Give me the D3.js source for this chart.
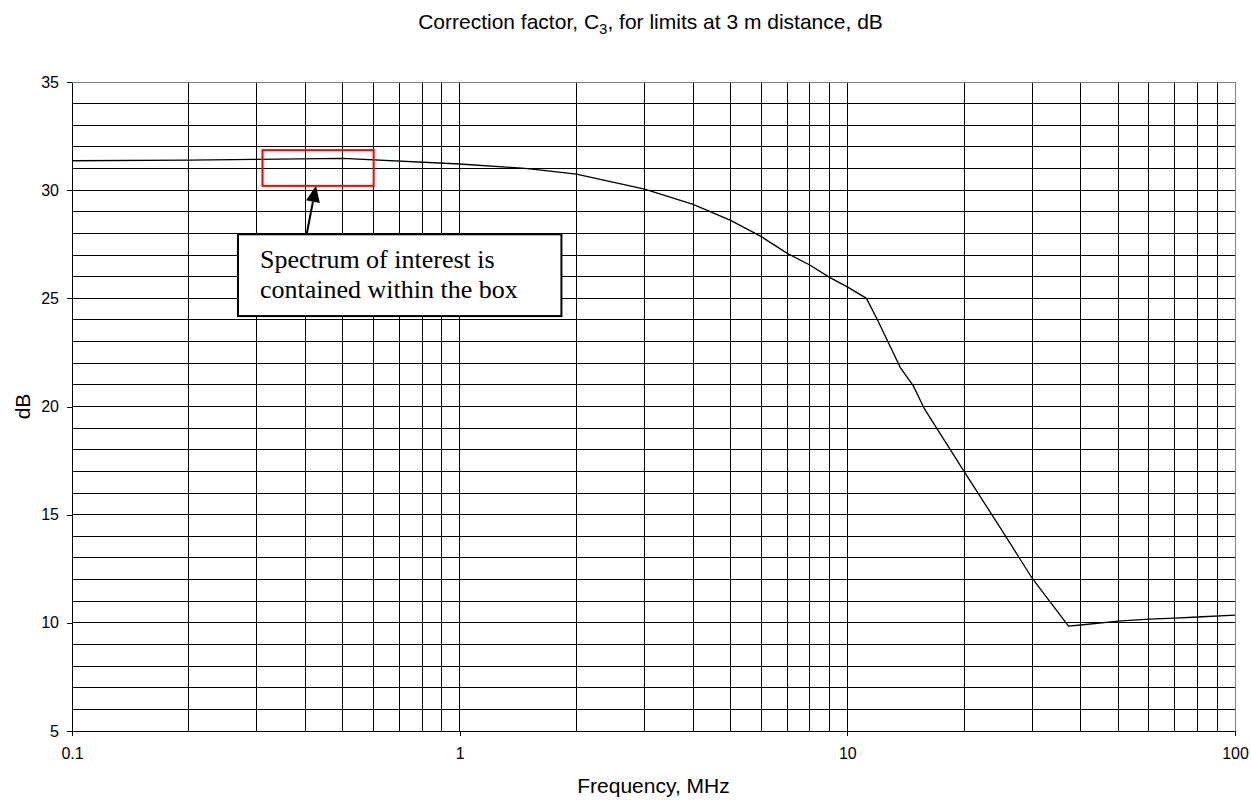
<!DOCTYPE html>
<html>
<head>
<meta charset="utf-8">
<script src="https://cdn.jsdelivr.net/npm/d3@7"></script>
<style>
  body { margin: 0; background: #fff; }
  text { font-family: "Liberation Sans", Arial, sans-serif; fill: #000; }
</style>
</head>
<body>
<div id="vis"></div>
<script>
// correction factor curve
const freqMHz = [0.1, 0.2, 0.3, 0.5, 1, 1.5, 2, 3, 4, 5, 6, 7, 8, 9, 10, 11.2, 12, 13.7, 14.8, 15.8, 20, 25, 30, 37.2, 40, 50, 60, 70, 80, 100];
const corrDb = [31.36, 31.39, 31.42, 31.47, 31.21, 31.0, 30.74, 30.05, 29.34, 28.6, 27.85, 27.08, 26.54, 25.97, 25.53, 25.0, 23.95, 21.8, 20.95, 19.9, 17.0, 14.3, 12.05, 9.85, 9.9, 10.08, 10.17, 10.22, 10.27, 10.36];

const xTickLabels = [0.1, 1, 10, 100];
const yTickLabels = [5, 10, 15, 20, 25, 30, 35];

// annotation: red box around spectrum of interest, callout and arrow
const boxF = [0.31, 0.6], boxDb = [30.2, 31.85];
const noteF = [0.268, 1.83], noteDb = [24.18, 27.96];
const arrowF = [0.403, 0.426], arrowDb = [27.96, 30.2];
const noteLines = ['Spectrum of interest is', 'contained within the box'];

let margin = { top: 82, left: 72, right: 16, bottom: 69 },
  W = 1251, H = 800,
  width = W - margin.left - margin.right,
  height = H - margin.top - margin.bottom;

let svg = d3.select('#vis').append('svg')
  .attr('width', W).attr('height', H);

let x = d3.scaleLog().domain([0.1, 100]).range([margin.left, margin.left + width]);
let y = d3.scaleLinear().domain([5, 35]).range([margin.top + height, margin.top]);

// grid
let grid = svg.append('g').attr('shape-rendering', 'crispEdges');
grid.selectAll('.vg')
  .data(x.ticks().filter(d => d > 0.1 && d < 100))
  .join('line')
  .attr('x1', d => x(d)).attr('x2', d => x(d))
  .attr('y1', y(5)).attr('y2', y(35))
  .attr('stroke', '#000');
grid.selectAll('.hg')
  .data(d3.range(6, 35))
  .join('line')
  .attr('x1', x(0.1)).attr('x2', x(100))
  .attr('y1', d => y(d)).attr('y2', d => y(d))
  .attr('stroke', '#000');

// plot border
svg.append('rect')
  .attr('x', x(0.1)).attr('y', y(35))
  .attr('width', x(100) - x(0.1)).attr('height', y(5) - y(35))
  .attr('fill', 'none').attr('stroke', '#808080')
  .attr('shape-rendering', 'crispEdges');

// axes
let xAxis = svg.append('g')
  .attr('transform', `translate(0,${y(5)})`)
  .call(d3.axisBottom(x).tickValues(xTickLabels).tickSize(5).tickSizeOuter(0).tickPadding(12)
    .tickFormat(d => String(d)));
let yAxis = svg.append('g')
  .attr('transform', `translate(${x(0.1)},0)`)
  .call(d3.axisLeft(y).tickValues(yTickLabels).tickSize(5).tickSizeOuter(0).tickPadding(8));
[xAxis, yAxis].forEach(a => {
  a.selectAll('path, line').attr('stroke', '#000').attr('shape-rendering', 'crispEdges');
  a.selectAll('text').style('font-size', '16px').style('font-family', '"Liberation Sans", Arial, sans-serif');
});

// curve
svg.append('path')
  .datum(freqMHz.map((f, i) => [f, corrDb[i]]))
  .attr('fill', 'none')
  .attr('stroke', '#000')
  .attr('stroke-width', 1.3)
  .attr('d', d3.line().x(d => x(d[0])).y(d => y(d[1])));

// red box
svg.append('rect')
  .attr('x', x(boxF[0])).attr('y', y(boxDb[1]))
  .attr('width', x(boxF[1]) - x(boxF[0]))
  .attr('height', y(boxDb[0]) - y(boxDb[1]))
  .attr('fill', 'none').attr('stroke', '#ff0000').attr('stroke-width', 2);

// arrow
let ax0 = x(arrowF[0]), ay0 = y(arrowDb[0]), ax1 = x(arrowF[1]), ay1 = y(arrowDb[1]);
let ang = Math.atan2(ay1 - ay0, ax1 - ax0), headLen = 16, headW = 7;
let bx = ax1 - headLen * Math.cos(ang), by = ay1 - headLen * Math.sin(ang);
svg.append('line')
  .attr('x1', ax0).attr('y1', ay0).attr('x2', bx).attr('y2', by)
  .attr('stroke', '#000').attr('stroke-width', 2);
svg.append('polygon')
  .attr('points', [
    [ax1, ay1],
    [bx + headW * Math.sin(ang), by - headW * Math.cos(ang)],
    [bx - headW * Math.sin(ang), by + headW * Math.cos(ang)],
  ].map(p => p.join(',')).join(' '))
  .attr('fill', '#000');

// callout
svg.append('rect')
  .attr('x', x(noteF[0])).attr('y', y(noteDb[1]))
  .attr('width', x(noteF[1]) - x(noteF[0]))
  .attr('height', y(noteDb[0]) - y(noteDb[1]))
  .attr('fill', '#fff').attr('stroke', '#000').attr('stroke-width', 2);
svg.selectAll('.note')
  .data(noteLines)
  .join('text')
  .attr('x', x(noteF[0]) + 22)
  .attr('y', (d, i) => y(noteDb[1]) + 34 + i * 30)
  .style('font-family', '"Liberation Serif", "Times New Roman", serif')
  .style('font-size', '26px')
  .text(d => d);

// titles
let title = svg.append('text')
  .attr('x', (x(0.1) + x(100)) / 2 - 3).attr('y', 29)
  .attr('text-anchor', 'middle')
  .style('font-size', '21px');
title.append('tspan').text('Correction factor, C');
title.append('tspan').attr('dy', 5).style('font-size', '15px').text('3');
title.append('tspan').attr('dy', -5).text(', for limits at 3 m distance, dB');

svg.append('text')
  .attr('x', (x(0.1) + x(100)) / 2).attr('y', 793)
  .attr('text-anchor', 'middle')
  .style('font-size', '21px')
  .text('Frequency, MHz');

svg.append('text')
  .attr('transform', `translate(30,${(y(5) + y(35)) / 2}) rotate(-90)`)
  .attr('text-anchor', 'middle')
  .style('font-size', '21px')
  .text('dB');
</script>
</body>
</html>
